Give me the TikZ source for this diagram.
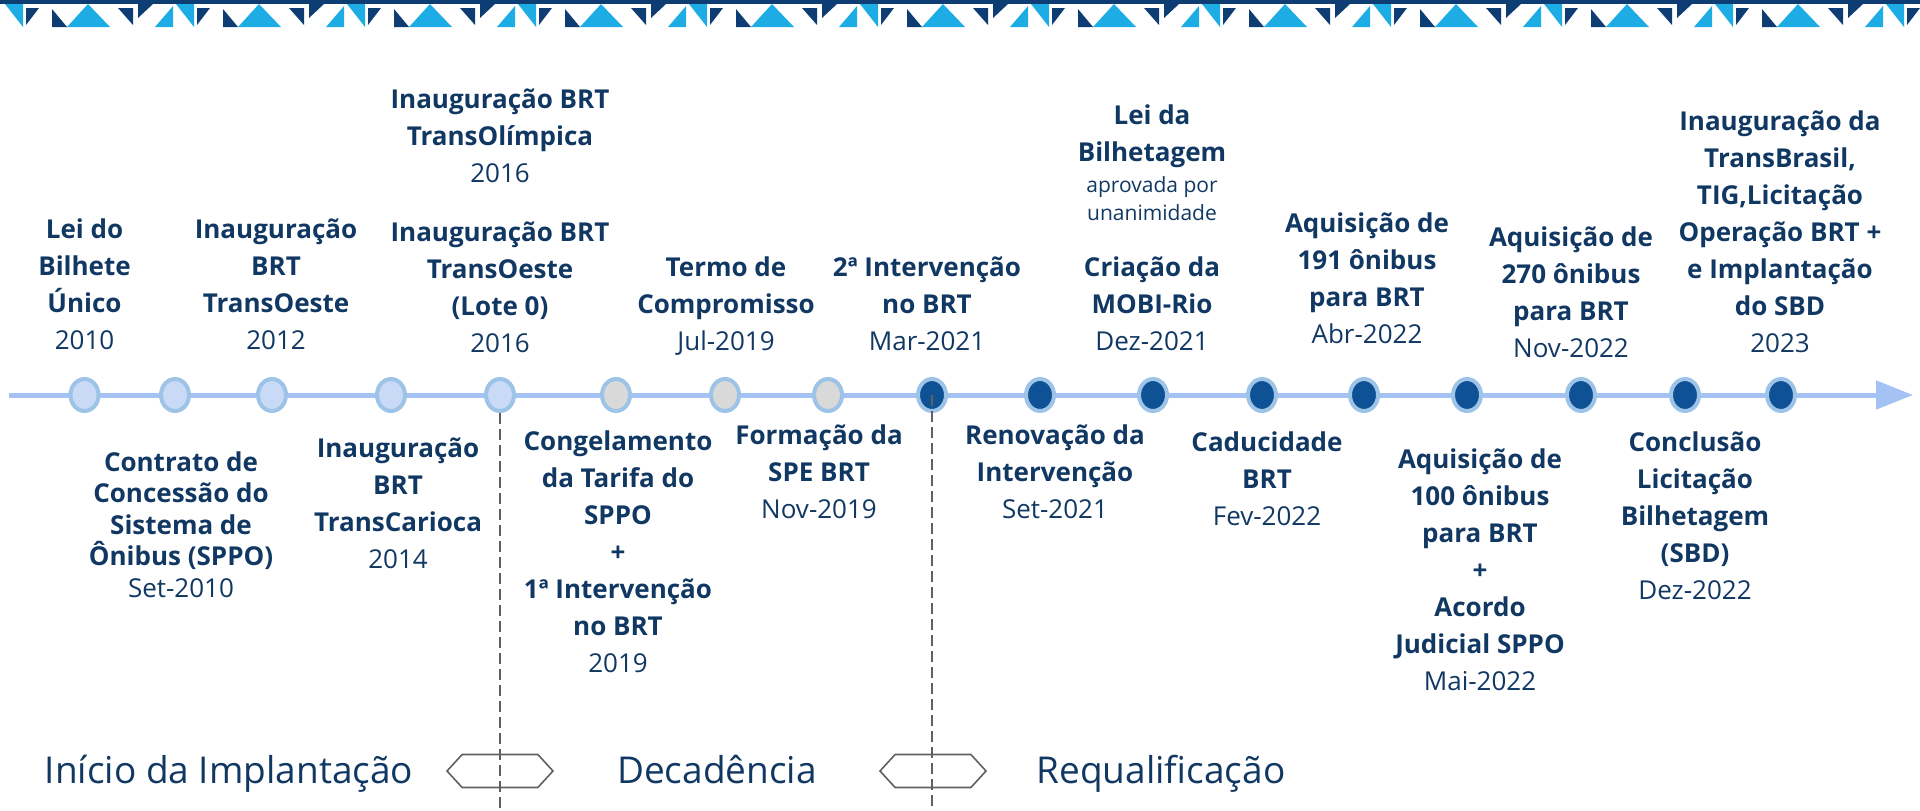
\documentclass[tikz,border=0pt]{standalone}
\usepackage{fontspec}
\setmainfont{Open Sans}
\usetikzlibrary{arrows.meta,shapes.geometric,shapes.symbols}

\definecolor{navy}{RGB}{17,56,99}
\definecolor{timeline}{RGB}{164,194,244}
\definecolor{dotedge}{RGB}{157,195,230}
\definecolor{dotlight}{RGB}{200,218,246}
\definecolor{dotgray}{RGB}{217,217,217}
\definecolor{dotdark}{RGB}{14,81,148}
\definecolor{tricyan}{RGB}{30,172,228}
\definecolor{tridark}{RGB}{13,61,114}
\definecolor{sepgray}{RGB}{96,96,96}

\newcommand\ano[1]{{\mdseries #1}}
\def\faixa{
  \fill[tricyan] (5,4) -- (23,4) -- (23,27) -- cycle;
  \fill[tridark] (26,8) -- (39,8) -- (26,25) -- cycle;
  \fill[tridark] (52,9) -- (52,27) -- (67,27) -- cycle;
  \fill[tricyan] (67,27) -- (88,27) -- (88,4) -- cycle;
  \fill[tricyan] (88,4) -- (88,27) -- (110,27) -- cycle;
  \fill[tridark] (118,8) -- (133,8) -- (133,25) -- cycle;
  \fill[tridark] (138,4) -- (153,4) -- (138,18) -- cycle;
  \fill[tricyan] (155,27) -- (173,27) -- (173,6) -- cycle;
}

\tikzset{
  evt/.style={text=navy, align=center, inner sep=0pt, anchor=base,
    font=\bfseries\fontsize{26}{37}\selectfont},
  evttight/.style={evt, font=\bfseries\fontsize{26}{31.5}\selectfont},
  nota/.style={evt, font=\fontsize{21}{28}\selectfont},
  fase/.style={text=navy, inner sep=0pt, anchor=base, font=\fontsize{37}{44}\selectfont},
  marco/.style={ellipse, draw=dotedge, line width=4pt, minimum width=28pt,
    minimum height=32pt, inner sep=0pt},
  antigo/.style={marco, fill=dotlight},
  crise/.style={marco, fill=dotgray},
  novo/.style={marco, fill=dotdark},
  linha/.style={draw=timeline, line width=5pt, -{Triangle[length=37pt,width=28pt]}},
  divisa/.style={draw=sepgray, line width=1.6pt, dash pattern=on 11pt off 5pt},
  seta/.style={signal, signal to=east and west, signal pointer angle=95, draw=sepgray,
    line width=1.6pt, minimum width=106pt, minimum height=33pt, inner sep=0pt}
}

\begin{document}
\begin{tikzpicture}[x=1pt,y=-1pt]
  \useasboundingbox (0,0) rectangle (1920,811);
  \begin{scope}
    \clip (0,0) rectangle (1920,30);
    \fill[tridark] (0,0) rectangle (1920,4);
    \foreach \k in {0,...,11} {
      \begin{scope}[xshift=\k*171pt]
        \faixa
      \end{scope}
    }
  \end{scope}

  \coordinate (ini) at (9,395);
  \coordinate (fim) at (1913,395);
  \draw[linha] (ini) -- (fim);

  \foreach \x/\s [count=\i] in {84.5/antigo,175/antigo,272/antigo,391/antigo,500/antigo,
      616/crise,725/crise,828/crise,932/novo,1040/novo,1153/novo,1262/novo,1364/novo,
      1467/novo,1581/novo,1685/novo,1781/novo}
    \node[\s] (d\i) at (\x,395) {};

  \node[seta] (s1) at (500,771) {};
  \node[seta] (s2) at (933,771) {};
  \coordinate (b1) at (500,811);
  \coordinate (b2) at (932,811);
  \draw[divisa] (d5.south) -- (b1);
  \draw[divisa] (d9.center) -- (b2);

  \node[evt] (bilhete) at (84.5,349) {Lei do\\Bilhete\\Único\\\ano{2010}};
  \node[evt] (transoeste) at (276,349) {Inauguração\\BRT\\TransOeste\\\ano{2012}};
  \node[evt] (olimpica) at (500,182) {Inauguração BRT\\TransOlímpica\\\ano{2016}};
  \node[evt] (lotezero) at (500,352) {Inauguração BRT\\TransOeste\\(Lote 0)\\\ano{2016}};
  \node[evt] (termo) at (726,350) {Termo de\\Compromisso\\\ano{Jul-2019}};
  \node[evt] (interv) at (927,350) {2ª Intervenção\\no BRT\\\ano{Mar-2021}};
  \node[evt] (leibil) at (1152,161) {Lei da\\Bilhetagem};
  \node[nota] (unanime) at (1152,220) {aprovada por\\unanimidade};
  \node[evt] (mobi) at (1152,350) {Criação da\\MOBI-Rio\\\ano{Dez-2021}};
  \node[evt] (aqcento) at (1367,343) {Aquisição de\\191 ônibus\\para BRT\\\ano{Abr-2022}};
  \node[evt] (aqdois) at (1571,357) {Aquisição de\\270 ônibus\\para BRT\\\ano{Nov-2022}};
  \node[evt] (transbrasil) at (1780,352) {Inauguração da\\TransBrasil,\\TIG,Licitação\\Operação BRT +\\e Implantação\\do SBD\\\ano{2023}};

  \node[evttight] (contrato) at (181,597) {Contrato de\\Concessão do\\Sistema de\\Ônibus (SPPO)\\\ano{Set-2010}};
  \node[evt] (carioca) at (398,568) {Inauguração\\BRT\\TransCarioca\\\ano{2014}};
  \node[evt] (congela) at (618,672) {Congelamento\\da Tarifa do\\SPPO\\+\\1ª Intervenção\\no BRT\\\ano{2019}};
  \node[evt] (spe) at (819,518) {Formação da\\SPE BRT\\\ano{Nov-2019}};
  \node[evt] (renova) at (1055,518) {Renovação da\\Intervenção\\\ano{Set-2021}};
  \node[evt] (caduca) at (1267,525) {Caducidade\\BRT\\\ano{Fev-2022}};
  \node[evt] (aqcem) at (1480,690) {Aquisição de\\100 ônibus\\para BRT\\+\\Acordo\\Judicial SPPO\\\ano{Mai-2022}};
  \node[evt] (conclui) at (1695,599) {Conclusão\\Licitação\\Bilhetagem\\(SBD)\\\ano{Dez-2022}};

  \node[fase] (implanta) at (229,783) {Início da Implantação};
  \node[fase] (decad) at (717,783) {Decadência};
  \node[fase] (requal) at (1161,783) {Requalificação};
\end{tikzpicture}
\end{document}
